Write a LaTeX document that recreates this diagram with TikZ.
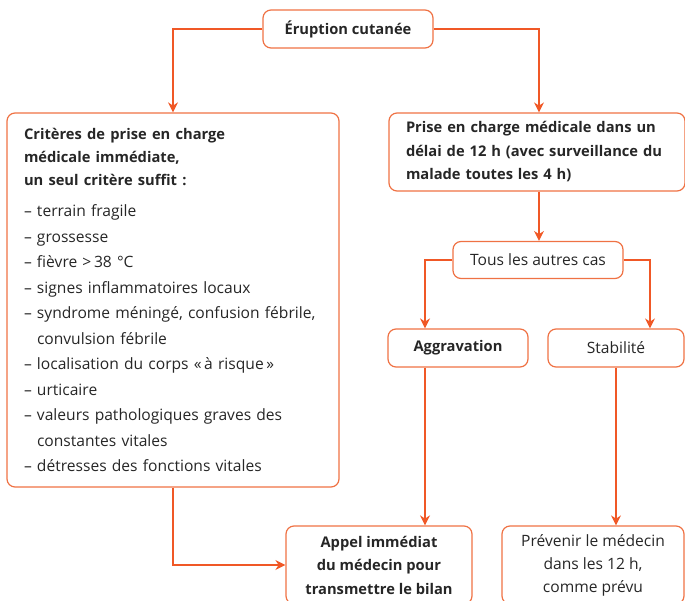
\documentclass[tikz,border=0pt]{standalone}
\usepackage{fontspec}
\setmainfont{Open Sans}
\usetikzlibrary{arrows.meta,positioning}
\definecolor{ecorange}{RGB}{239,114,68}
\definecolor{ecarrow}{RGB}{240,88,38}

\begin{document}
\begin{tikzpicture}[
  x=1pt,y=-1pt,
  every node/.style={font=\fontsize{15.6}{23}\selectfont,text=black!85},
  ecbox/.style={draw=ecorange,line width=1.2pt,rounded corners=8pt,align=center,
                inner sep=0pt},
  ecbold/.style={font=\fontsize{14.7}{23.5}\selectfont\bfseries},
  arrthick/.style={-{Stealth[length=10pt,width=10pt]},line width=2pt,ecarrow},
  arrthin/.style={-{Stealth[length=10pt,width=10pt]},line width=1.3pt,ecarrow},
]
  \useasboundingbox (0,0) rectangle (685,601);

  % Top
  \node[ecbox,ecbold,minimum width=170,minimum height=38] (erup) at (348,29) {Éruption cutanée};

  % Left branch: criteria
  \node[ecbox,minimum width=332,minimum height=374,text width=298,align=left] (crit) at (173,300)
    {{\fontsize{14.7}{23}\selectfont\bfseries Critères de prise en charge\\ médicale immédiate,\\ un seul critère suffit~:}\\[8pt]
     – terrain fragile\\[2.5pt]
     – grossesse\\[2.5pt]
     – fièvre >\,38 °C\\[2.5pt]
     – signes inflammatoires locaux\\[2.5pt]
     – syndrome méningé, confusion fébrile,\\[2.5pt]
     \phantom{– }convulsion fébrile\\[2.5pt]
     – localisation du corps «\,à risque\,»\\[2.5pt]
     – urticaire\\[2.5pt]
     – valeurs pathologiques graves des\\[2.5pt]
     \phantom{– }constantes vitales\\[2.5pt]
     – détresses des fonctions vitales};

  % Right branch
  \node[ecbox,ecbold,minimum width=296,minimum height=78,text width=262,align=left] (prise) at (537,152)
    {Prise en charge médicale dans un\\ délai de 12 h (avec surveillance du\\ malade toutes les 4 h)};
  \node[ecbox,minimum width=170,minimum height=37] (tous) at (538,260) {Tous les autres cas};
  \node[ecbox,ecbold,minimum width=140,minimum height=38] (aggr) at (458,348) {Aggravation};
  \node[ecbox,minimum width=136,minimum height=38] (stab) at (616,348) {Stabilité};

  % Bottom
  \node[ecbox,ecbold,minimum width=186,minimum height=78] (appel) at (379,565)
    {Appel immédiat\\ du médecin pour\\ transmettre le bilan};
  \node[ecbox,minimum width=182,minimum height=78] (prev) at (593,565)
    {Prévenir le médecin\\ dans les 12 h,\\ comme prévu};

  % Connectors
  \draw[arrthick] (erup.west) -| (crit.north);
  \draw[arrthin] (erup.east) -| ([xshift=2pt]prise.north);
  \draw[arrthin] ([xshift=2pt]prise.south) -- ([xshift=1pt]tous.north);
  \draw[arrthick] (tous.west) -| ([xshift=-33pt]aggr.north);
  \draw[arrthin] (tous.east) -| ([xshift=34pt]stab.north);
  \draw[arrthick] ([xshift=-33pt]aggr.south) -- ([xshift=-33pt]aggr.south |- appel.north);
  \draw[arrthin] (stab.south) -- (stab.south |- prev.north);
  \draw[arrthick] (crit.south) |- (appel.west);
\end{tikzpicture}
\end{document}
